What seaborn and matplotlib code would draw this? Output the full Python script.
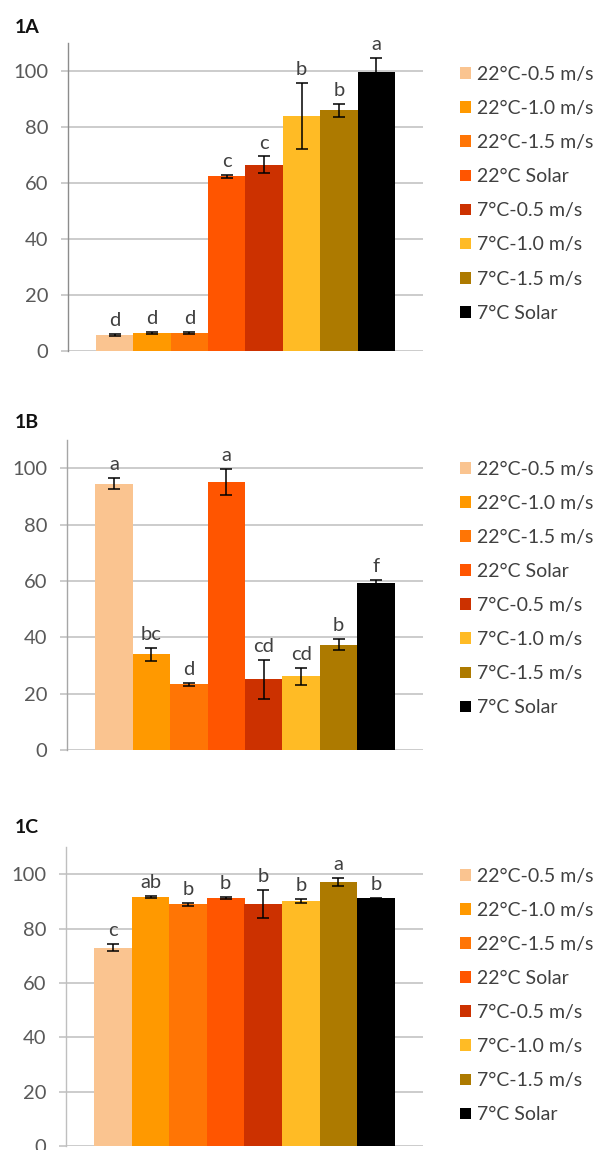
import matplotlib
matplotlib.use("Agg")
import matplotlib.pyplot as plt
import seaborn as sns
import pandas as pd

# ---- data ----
treatments = ["22°C-0.5 m/s", "22°C-1.0 m/s", "22°C-1.5 m/s", "22°C Solar",
              "7°C-0.5 m/s", "7°C-1.0 m/s", "7°C-1.5 m/s", "7°C Solar"]
colors = ["#FAC490", "#FF9900", "#FF7505", "#FF5500",
          "#CC3100", "#FFBB25", "#AD7A00", "#000000"]

panel_titles = ["1A", "1B", "1C"]

values_a = [5.7, 6.4, 6.4, 62.4, 66.6, 83.9, 86.0, 99.6]
errors_a = [0.5, 0.3, 0.3, 0.5, 2.9, 11.8, 2.3, 5.0]
letters_a = ["d", "d", "d", "c", "c", "b", "b", "a"]

values_b = [94.5, 33.9, 23.3, 95.1, 25.1, 26.1, 37.4, 59.4]
errors_b = [2.0, 2.3, 0.6, 4.7, 7.0, 3.0, 1.9, 0.9]
letters_b = ["a", "bc", "d", "a", "cd", "cd", "b", "f"]

values_c = [73.0, 91.6, 88.9, 91.2, 89.0, 90.1, 97.1, 91.2]
errors_c = [1.2, 0.3, 0.6, 0.3, 5.1, 0.8, 1.6, 0.2]
letters_c = ["c", "ab", "b", "b", "b", "b", "a", "b"]

yticks = [0, 20, 40, 60, 80, 100]

panels = [
    (values_a, errors_a, letters_a),
    (values_b, errors_b, letters_b),
    (values_c, errors_c, letters_c),
]

# ---- style ----
sns.set_style("white")
plt.rcParams["font.family"] = ["Lato", "DejaVu Sans"]

W, H = 600, 1150
fig = plt.figure(figsize=(W / 100, H / 100), dpi=100)

# axes boxes in pixels: (left, top, right, bottom)
boxes = [(68, 43, 423, 351), (67, 440, 423, 750), (66, 847, 423, 1146)]
title_base = [33, 428, 833]
legend_center = [193.8, 588.5, 995.5]
spine_colors = ["#8C8C8C", "#A6A6A6", "#BFBFBF"]

FS_TICK = 14.5
FS_LEG = 14
FS_LET = 14.5
for i, ((vals, errs, lets), box) in enumerate(zip(panels, boxes)):
    l, t, r, b = box
    ax = fig.add_axes([l / W, 1 - b / H, (r - l) / W, (b - t) / H])
    df = pd.DataFrame({"group": [""] * len(treatments),
                       "treatment": treatments,
                       "value": vals})
    sns.barplot(data=df, x="group", y="value", hue="treatment",
                hue_order=treatments, palette=colors, saturation=1,
                width=0.8, errorbar=None, linewidth=0, ax=ax)
    for cont, val, err, let in zip(ax.containers, vals, errs, lets):
        bar = cont[0]
        xc = bar.get_x() + bar.get_width() / 2
        ax.errorbar(xc, val, yerr=err, fmt="none", ecolor="black",
                    elinewidth=1.1, capsize=4.3, capthick=1.1, zorder=5)
        ax.annotate(let, (xc, val + err), xytext=(0, 3.5),
                    textcoords="offset points", ha="center", va="bottom",
                    fontsize=FS_LET, color="#404040")
    ax.set_xlim(-0.475, 0.475)
    ax.set_ylim(0, 110)
    ax.set_yticks(yticks)
    ax.set_xticks([])
    ax.set_xlabel("")
    ax.set_ylabel("")
    ax.set_axisbelow(True)
    ax.yaxis.grid(True, color="#C4C4C4", linewidth=1.2)
    ax.tick_params(axis="y", length=5, width=1.2, color="#C4C4C4",
                   labelsize=FS_TICK, labelcolor="#595959", pad=9, left=True)
    for s in ["top", "right", "bottom"]:
        ax.spines[s].set_visible(False)
    ax.spines["left"].set_color(spine_colors[i])
    ax.spines["left"].set_linewidth(1.0)
    sns.move_legend(ax, "center left",
                    bbox_to_anchor=(460 / W, 1 - legend_center[i] / H),
                    bbox_transform=fig.transFigure, frameon=False, title=None,
                    fontsize=FS_LEG, labelcolor="#404040",
                    handlelength=0.55, handleheight=0.55, handletextpad=0.3,
                    labelspacing=0.88, borderpad=0, borderaxespad=0)
    fig.text(15 / W, 1 - title_base[i] / H, panel_titles[i], fontsize=14,
             fontweight="bold", color="#111111", va="baseline", ha="left")

fig.savefig("out.png", dpi=100)
